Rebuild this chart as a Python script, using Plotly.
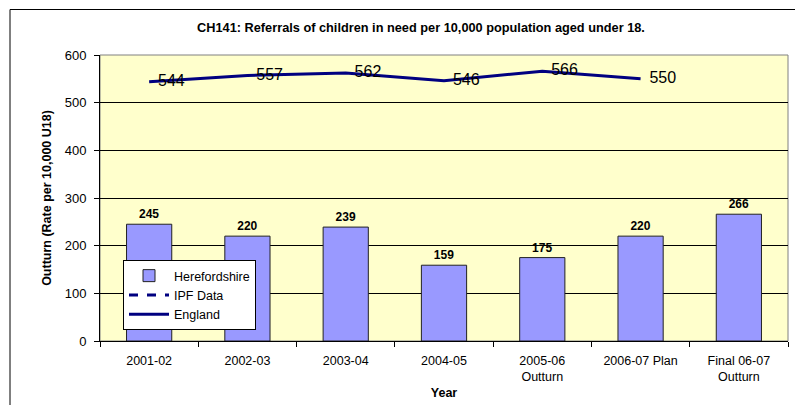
import plotly.graph_objects as go

categories = ["2001-02", "2002-03", "2003-04", "2004-05", "2005-06<br>Outturn",
              "2006-07 Plan", "Final 06-07<br>Outturn"]
herefordshire = [245, 220, 239, 159, 175, 220, 266]
england = [544, 557, 562, 546, 566, 550, None]
ipf_data = [None, None, None, None, None, None, None]
y_ticks = [0, 100, 200, 300, 400, 500, 600]

W, H = 795, 405
L, R, T, B = 100, 7, 55, 64
pw, ph = W - L - R, H - T - B
FONT = "Liberation Sans, Arial, sans-serif"

def px(x):
    return (x - L) / pw

def py(y):
    return (H - B - y) / ph

fig = go.Figure()
fig.add_trace(go.Bar(
    x=categories, y=herefordshire, name="Herefordshire",
    marker=dict(color="#9999FF", line=dict(color="#222222", width=1)),
    width=0.46,
    text=[str(v) for v in herefordshire], textposition="outside",
    textfont=dict(family=FONT, size=12, color="black", weight="bold"),
    cliponaxis=False,
))
fig.add_trace(go.Scatter(
    x=categories, y=ipf_data, name="IPF Data", mode="lines",
    line=dict(color="#000080", width=3, dash="dash"),
))
fig.add_trace(go.Scatter(
    x=categories, y=england, name="England", mode="lines+text",
    line=dict(color="#000080", width=3),
    text=["\u00a0\u00a0" + str(v) if v is not None else "" for v in england],
    textposition="middle right",
    textfont=dict(family=FONT, size=16, color="black"),
    cliponaxis=False,
))

fig.update_layout(
    width=W, height=H,
    margin=dict(l=L, r=R, t=T, b=B, autoexpand=False),
    paper_bgcolor="white",
    plot_bgcolor="#FFFFCC",
    font=dict(family=FONT, size=12.5, color="black"),
    showlegend=True,
    bargap=0.54,
    legend=dict(
        x=px(123), y=py(260), xanchor="left", yanchor="top",
        bgcolor="white", bordercolor="black", borderwidth=1,
        font=dict(size=12.5, color="black"),
        tracegroupgap=0, itemwidth=40,
    ),
    title=dict(
        text="<b>CH141: Referrals of children in need per 10,000 population aged under 18.</b>",
        x=421 / W, xanchor="center", y=1 - 28 / H, yanchor="middle",
        yref="container", automargin=False,
        font=dict(size=12.75, color="black"),
    ),
    xaxis=dict(
        type="category", automargin=False,
        showline=True, linecolor="black", linewidth=1,
        ticks="outside", tickson="boundaries", ticklen=5, tickcolor="black",
        ticklabelstandoff=8,
        showgrid=False,
        title=dict(text="<b>Year</b>", font=dict(size=12.5), standoff=4),
        tickfont=dict(size=12.5),
    ),
    yaxis=dict(
        range=[0, 600], tickvals=y_ticks, automargin=False,
        showline=True, linecolor="black", linewidth=1,
        ticks="outside", ticklen=5, tickcolor="black",
        ticklabelstandoff=5,
        showgrid=True, gridcolor="black", gridwidth=1,
        zeroline=False,
        title=dict(text="<b>Outturn (Rate per 10,000 U18)</b>", font=dict(size=12.5), standoff=10),
        tickfont=dict(size=13),
    ),
)

# plot area border (top/right gray)
fig.add_shape(type="rect", xref="paper", yref="paper", x0=0, x1=1, y0=0, y1=1,
              line=dict(color="#808080", width=1), layer="below")
# outer chart frame
fig.add_shape(type="rect", xref="paper", yref="paper",
              x0=px(10), x1=px(800), y0=py(410), y1=py(9.5),
              line=dict(color="black", width=1))

fig.write_html(
    "out.html",
    config={"displayModeBar": False},
    post_script="document.body.style.margin='0';document.body.style.overflow='hidden';",
)
